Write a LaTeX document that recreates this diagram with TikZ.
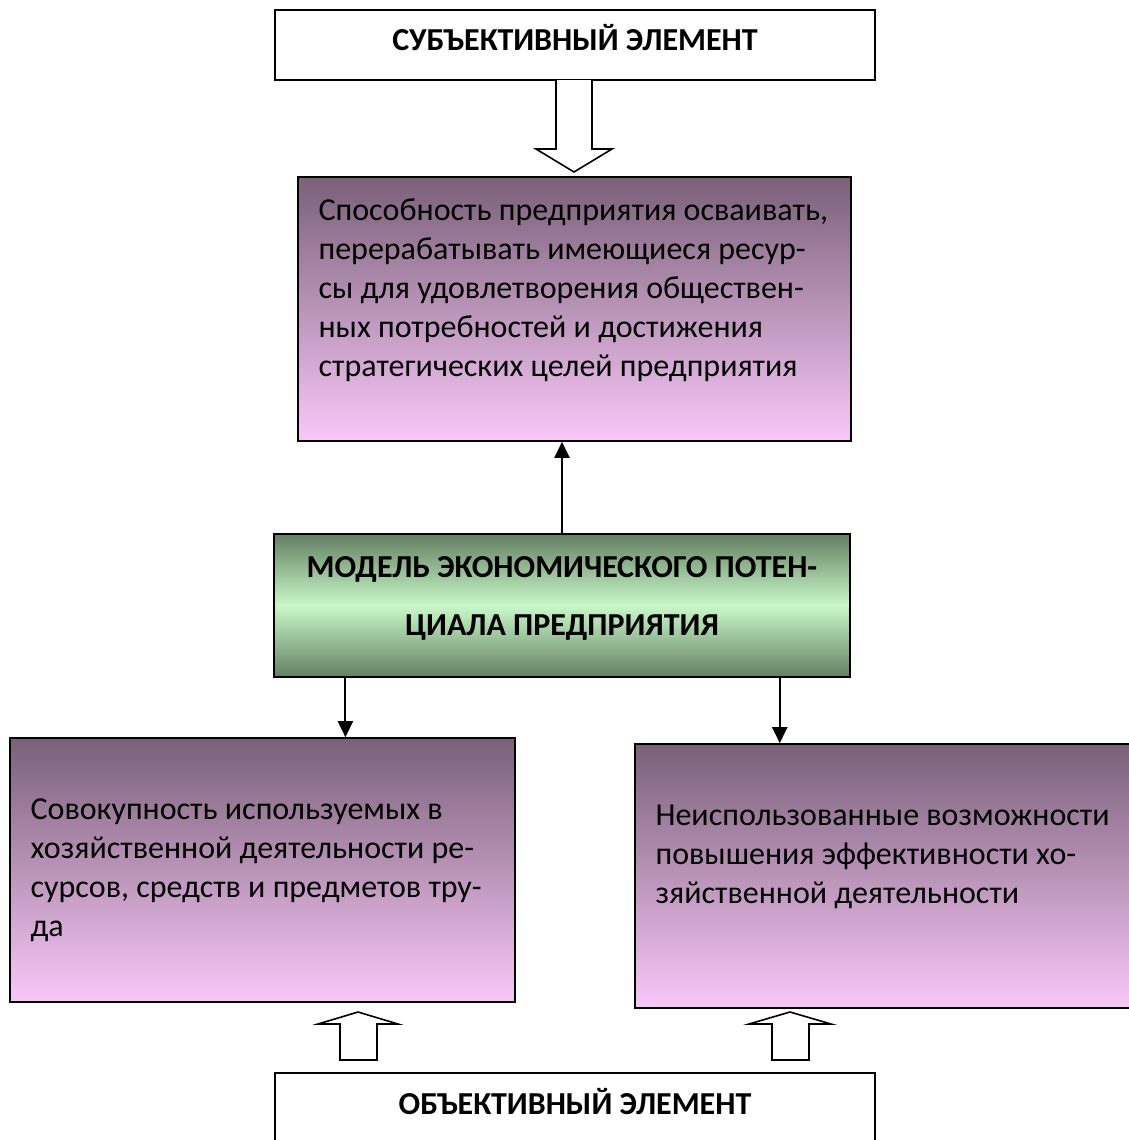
\documentclass[tikz,border=0pt]{standalone}
\usepackage{fontspec}
\setmainfont{Carlito}
\usetikzlibrary{positioning,calc,arrows.meta}

\definecolor{plumtop}{RGB}{122,96,121}
\definecolor{plumbot}{RGB}{249,200,249}
\definecolor{greenedge}{RGB}{100,128,98}
\definecolor{greenmid}{RGB}{201,248,201}

\tikzset{
  framebox/.style={draw, line width=0.8pt, inner sep=0pt},
  titlebox/.style={framebox, fill=white, minimum width=300pt},
  plumbox/.style={framebox, top color=plumtop, bottom color=plumbot, minimum height=132pt},
  modelbox/.style={framebox, top color=greenedge, bottom color=greenedge, middle color=greenmid},
  bodytext/.style={inner sep=0pt, align=left, anchor=north west, font=\fontsize{16}{19.5}\selectfont},
  headtext/.style={inner sep=0pt, anchor=base, font=\fontsize{16}{19.5}\selectfont\bfseries},
  hollow/.style={draw, line width=0.8pt, fill=white, line join=miter},
  linkarrow/.style={line width=1pt, -{Triangle[length=8pt,width=7.5pt]}}
}

\begin{document}
\begin{tikzpicture}[x=0.5pt,y=-0.5pt]
    \useasboundingbox (0,0) rectangle (1129,1140);
    % boxes
    \node [titlebox, minimum height=35pt] (subj) at (575,45) {};
    \node [plumbox, minimum width=276.5pt] (ability) at (574.5,309) {};
    \node [modelbox, minimum width=288pt, minimum height=71.5pt] (model) at (562,605.5) {};
    \node [plumbox, minimum width=252.5pt] (resources) at (262.5,870) {};
    \node [plumbox, minimum width=252.5pt] (unused) at (887.5,876) {};
    \node [titlebox, minimum height=38.5pt] (obj) at (575,1111.5) {};
    % texts
    \node [headtext] (subjtext) at ($(subj.north)+(0,41)$) {СУБЪЕКТИВНЫЙ ЭЛЕМЕНТ};
    \node [headtext] (objtext) at ($(obj.north)+(0,42)$) {ОБЪЕКТИВНЫЙ ЭЛЕМЕНТ};
    \node [bodytext] (abilitytext) at ($(ability.north west)+(21,22)$)
        {Способность предприятия осваивать,\\перерабатывать имеющиеся ресур-\\сы для удовлетворения обществен-\\ных потребностей и достижения\\стратегических целей предприятия};
    \node [bodytext, align=center, anchor=north, font=\fontsize{16}{29}\selectfont\bfseries] (modeltext) at ($(model.north)+(0,23)$)
        {МОДЕЛЬ ЭКОНОМИЧЕСКОГО ПОТЕН-\\ЦИАЛА ПРЕДПРИЯТИЯ};
    \node [bodytext] (resourcestext) at ($(resources.north west)+(21,61)$)
        {Совокупность используемых в\\хозяйственной деятельности ре-\\сурсов, средств и предметов тру-\\да};
    \node [bodytext] (unusedtext) at ($(unused.north west)+(21,61)$)
        {Неиспользованные возможности\\повышения эффективности хо-\\зяйственной деятельности};
    % connectors
    \coordinate (mleft) at ($(model.south west)!0.125!(model.south east)$);
    \coordinate (mright) at ($(model.south west)!0.877!(model.south east)$);
    \draw [linkarrow] (model.north) -- (model.north |- ability.south);
    \draw [linkarrow] (mleft) -- (mleft |- resources.north);
    \draw [linkarrow] (mright) -- (mright |- unused.north);
    % hollow arrows
    \draw [hollow] (556,80) -- (556,149) -- (536,149) -- (574,172) -- (612,149) -- (592,149) -- (592,80);
    \draw [hollow] (340,1060) -- (340,1024) -- (318,1024) -- (358,1012) -- (398,1024) -- (377,1024) -- (377,1060) -- cycle;
    \draw [hollow] (772,1060) -- (772,1024) -- (749,1024) -- (790,1012) -- (831,1024) -- (809,1024) -- (809,1060) -- cycle;
\end{tikzpicture}
\end{document}
